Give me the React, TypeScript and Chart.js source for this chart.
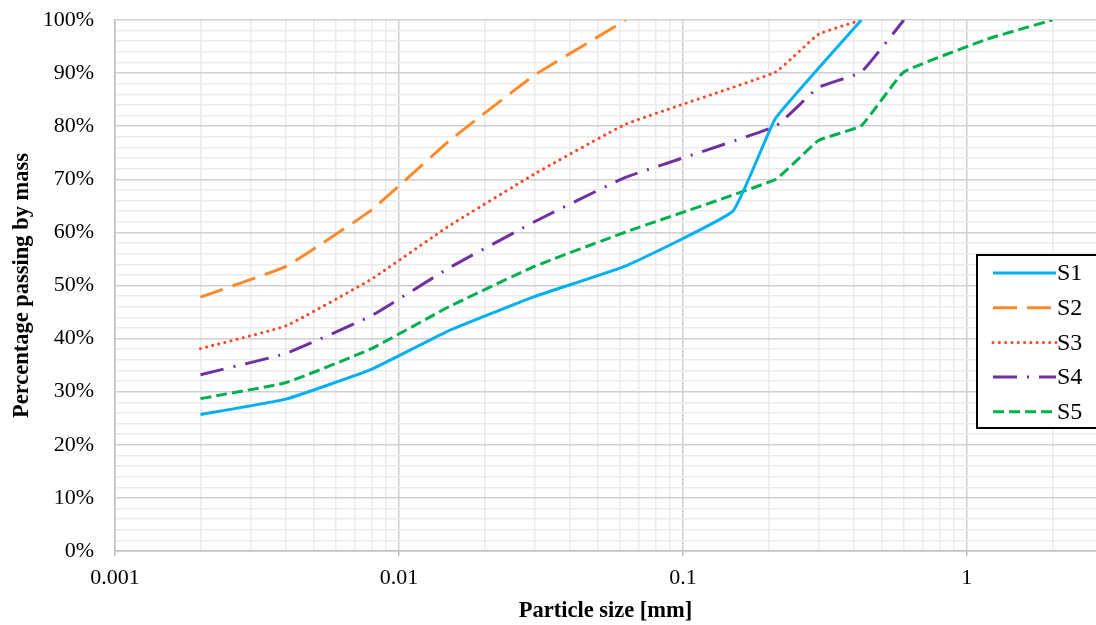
import React, { useEffect, useRef } from 'react';
import { Chart, registerables } from 'chart.js';

Chart.register(...registerables);

// Sieve sizes [mm]
const SIZES = [0.002, 0.004, 0.008, 0.015, 0.03, 0.063, 0.15, 0.212, 0.3, 0.425, 0.6, 1.18, 2];

// Percentage passing by mass (null = no point)
const S1 = [25.7, 28.6, 34.2, 41.5, 47.9, 53.7, 64.0, 81.5, null, 100, null, null, null];
const S2 = [47.8, 53.6, 64.2, 77.2, 89.6, 100, null, null, null, null, null, null, null];
const S3 = [38.1, 42.4, 51.2, 61.2, 71.0, 80.4, null, 90.2, 97.3, 100, null, null, null];
const S4 = [33.2, 37.2, 44.3, 53.3, 62.0, 70.4, null, 80.0, 87.3, 90.2, 100, null, null];
const S5 = [28.7, 31.7, 38.1, 46.0, 53.6, 60.1, null, 70.0, 77.3, 80.1, 90.2, 96.4, 100];

const SERIES_NAMES = ['S1', 'S2', 'S3', 'S4', 'S5'];

const X_DECADES = [0.001, 0.01, 0.1, 1];
const X_MIN = 0.001;
const X_MAX = 2.85;
const Y_MIN = 0;
const Y_MAX = 100;
const Y_LABEL_STEP = 10;
const Y_GRID_STEP = 2;

const SERIF = '"Liberation Serif", "Times New Roman", serif';

function points(values: (number | null)[]) {
  const out: { x: number; y: number }[] = [];
  values.forEach((v, i) => {
    if (v !== null) out.push({ x: SIZES[i], y: v });
  });
  return out;
}

const legendPlugin = {
  id: 'boxLegend',
  afterDraw(chart: any) {
    const ctx = chart.ctx;
    const area = chart.chartArea;
    const left = area.right - 119;
    const top = 255;
    const width = 125;
    const height = 173;
    ctx.save();
    ctx.fillStyle = '#ffffff';
    ctx.fillRect(left, top, width, height);
    ctx.strokeStyle = '#000000';
    ctx.lineWidth = 2;
    ctx.strokeRect(left, top, width, height);
    chart.data.datasets.forEach((ds: any, i: number) => {
      const y = top + 18 + i * 34.7;
      ctx.save();
      ctx.strokeStyle = ds.borderColor;
      ctx.lineWidth = ds.borderWidth;
      ctx.lineCap = ds.borderCapStyle || 'butt';
      ctx.setLineDash(ds.borderDash || []);
      ctx.beginPath();
      ctx.moveTo(left + 16, y);
      ctx.lineTo(left + 79, y);
      ctx.stroke();
      ctx.restore();
      ctx.fillStyle = '#000000';
      ctx.font = `24px ${SERIF}`;
      ctx.textBaseline = 'middle';
      ctx.textAlign = 'left';
      ctx.fillText(ds.label, left + 80, y + 1);
    });
    ctx.restore();
  },
};

export default function App() {
  const ref = useRef<HTMLCanvasElement>(null);

  useEffect(() => {
    if (!ref.current) return;
    const styles = [
      { color: '#00B0F0', dash: [] as number[], cap: 'butt' },
      { color: '#FF8A2B', dash: [24, 10], cap: 'butt' },
      { color: '#F9472B', dash: [0.1, 6.2], cap: 'round' },
      { color: '#7030A0', dash: [24, 10, 2, 10], cap: 'butt' },
      { color: '#00B050', dash: [11, 5], cap: 'butt' },
    ];
    const all = [S1, S2, S3, S4, S5];
    const chart = new Chart(ref.current, {
      type: 'line',
      data: {
        datasets: all.map((vals, i) => ({
          label: SERIES_NAMES[i],
          data: points(vals),
          borderColor: styles[i].color,
          backgroundColor: styles[i].color,
          borderWidth: 3,
          borderDash: styles[i].dash,
          borderCapStyle: styles[i].cap as any,
          borderJoinStyle: 'round',
          pointRadius: 0,
          pointHoverRadius: 0,
          tension: 0.1,
          fill: false,
        })),
      },
      options: {
        animation: false,
        responsive: false,
        parsing: false as any,
        layout: { padding: { top: 0, right: 0, left: 0, bottom: 0 } },
        plugins: {
          legend: { display: false },
          tooltip: { enabled: false },
        },
        scales: {
          x: {
            type: 'logarithmic',
            min: X_MIN,
            max: X_MAX,
            afterBuildTicks: (scale: any) => {
              const ticks: any[] = [];
              for (const d of X_DECADES) {
                for (let m = 1; m <= 9; m++) {
                  const v = +(d * m).toPrecision(6);
                  if (v <= X_MAX) ticks.push({ value: v, major: m === 1 });
                }
              }
              scale.ticks = ticks;
            },
            afterFit: (scale: any) => {
              scale.height = 74;
              scale.paddingRight = 0;
            },
            ticks: {
              autoSkip: false,
              maxRotation: 0,
              padding: 9,
              color: '#000000',
              font: { family: SERIF, size: 22 },
              callback: (value: any, index: number, ticks: any[]) =>
                ticks[index] && ticks[index].major ? String(+Number(value).toPrecision(6)) : '',
            },
            grid: {
              color: (ctx: any) => (ctx.tick && ctx.tick.major ? '#D0D0D0' : '#EBEBEB'),
              lineWidth: 1.5,
              tickLength: 5,
              tickColor: (ctx: any) => (ctx.tick && ctx.tick.major ? '#BFBFBF' : 'rgba(0,0,0,0)'),
            },
            border: { color: '#BFBFBF', width: 1.5 },
            title: {
              display: true,
              text: 'Particle size [mm]',
              color: '#000000',
              font: { family: SERIF, size: 22.5, weight: 'bold' },
              padding: { top: 0, bottom: 0.5 },
            },
          },
          y: {
            type: 'linear',
            min: Y_MIN,
            max: Y_MAX,
            afterBuildTicks: (scale: any) => {
              const ticks: any[] = [];
              for (let v = Y_MIN; v <= Y_MAX; v += Y_GRID_STEP) ticks.push({ value: v });
              scale.ticks = ticks;
            },
            afterFit: (scale: any) => {
              scale.width = 115;
              scale.paddingTop = 20;
              scale.paddingBottom = 0;
            },
            ticks: {
              autoSkip: false,
              padding: 21,
              color: '#000000',
              font: { family: SERIF, size: 22 },
              callback: (value: any) => (Number(value) % Y_LABEL_STEP === 0 ? `${value}%` : ''),
            },
            grid: {
              color: (ctx: any) =>
                ctx.tick && ctx.tick.value % Y_LABEL_STEP === 0 ? '#D0D0D0' : '#EBEBEB',
              lineWidth: 1.5,
              drawTicks: false,
            },
            border: { color: '#BFBFBF', width: 1.5 },
            title: {
              display: true,
              text: 'Percentage passing by mass',
              color: '#000000',
              font: { family: SERIF, size: 22.5, weight: 'bold' },
              padding: { top: 8.5, bottom: 0 },
            },
          },
        },
      },
      plugins: [legendPlugin],
    } as any);
    return () => chart.destroy();
  }, []);

  return (
    <div style={{ position: 'absolute', left: 0, top: 0, width: 1096, height: 625, background: '#fff' }}>
      <canvas ref={ref} width={1096} height={625} style={{ display: 'block' }} />
    </div>
  );
}
